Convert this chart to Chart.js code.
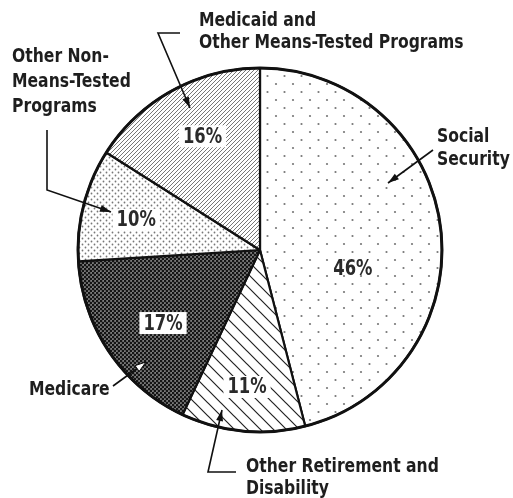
<!DOCTYPE html>
<html>
<head>
<meta charset="utf-8">
<script src="https://cdn.jsdelivr.net/npm/chart.js@4/dist/chart.umd.min.js"></script>
<style>
  html, body { margin: 0; padding: 0; background: #fff; }
  canvas { display: block; }
</style>
</head>
<body>
<canvas id="pieChart" width="513" height="498"></canvas>
<script>
// data (percent of outlays)
const categories = [
    ['Social', 'Security'],
    ['Other Retirement and', 'Disability'],
    ['Medicare'],
    ['Other Non-', 'Means-Tested', 'Programs'],
    ['Medicaid and', 'Other Means-Tested Programs']
];
const shares = [46, 11, 17, 10, 16];

const FONT = '"DejaVu Sans", sans-serif';
const SQUEEZE = 0.78;   // the original type is a condensed face

// pattern fills, one per slice
function makePattern(w, h, draw) {
    const c = document.createElement('canvas');
    c.width = w; c.height = h;
    const g = c.getContext('2d');
    draw(g, w, h);
    return document.getElementById('pieChart').getContext('2d').createPattern(c, 'repeat');
}
function dot(g, x, y, r, col) {
    g.fillStyle = col;
    g.beginPath(); g.arc(x, y, r, 0, Math.PI * 2); g.fill();
}
const fills = [
    makePattern(17, 16, (g, w, h) => {
        g.fillStyle = '#fff'; g.fillRect(0, 0, w, h);
        dot(g, 4, 4, 1.1, '#777');
        dot(g, 12.5, 12, 1.1, '#777');
    }),
    makePattern(13, 13, (g, w, h) => {
        g.fillStyle = '#fff'; g.fillRect(0, 0, w, h);
        g.strokeStyle = '#222'; g.lineWidth = 1.2;
        g.beginPath();
        g.moveTo(-2, -2); g.lineTo(w + 2, h + 2);
        g.moveTo(-2, h - 2); g.lineTo(2, h + 2);
        g.moveTo(w - 2, -2); g.lineTo(w + 2, 2);
        g.stroke();
    }),
    makePattern(4, 4, (g, w, h) => {
        g.fillStyle = '#7c7c7c'; g.fillRect(0, 0, w, h);
        dot(g, 1, 1, 1.35, '#151515');
        dot(g, 3, 3, 1.35, '#151515');
    }),
    makePattern(6, 6, (g, w, h) => {
        g.fillStyle = '#fff'; g.fillRect(0, 0, w, h);
        dot(g, 1.5, 1.5, 0.9, '#777');
        dot(g, 4.5, 4.5, 0.9, '#777');
    }),
    makePattern(4, 4, (g, w, h) => {
        g.fillStyle = '#fff'; g.fillRect(0, 0, w, h);
        g.strokeStyle = '#777'; g.lineWidth = 1;
        g.beginPath();
        g.moveTo(-1, 5); g.lineTo(5, -1);
        g.moveTo(-1, 1); g.lineTo(1, -1);
        g.moveTo(3, 5); g.lineTo(5, 3);
        g.stroke();
    })
];

// where the percent labels sit: angle (deg, clockwise from top) and radius fraction
const pctPlace = [[101, 0.52], [185.4, 0.756], [233, 0.667], [283.7, 0.70], [333.2, 0.70]];
const pctBox = [false, true, true, true, true];

// category text and leader lines
const callouts = [
    { x: 437, y: 137, gap: 23, line: [[433, 150], [388, 183]], head: 'black' },
    { x: 246, y: 467, gap: 22, line: [[236, 472], [208, 472], [222, 410]], head: 'black' },
    { x: 29, y: 390, gap: 23, line: [[113, 386], [146, 362]], head: 'white' },
    { x: 12, y: 57, gap: 25, line: [[47, 130], [47, 190], [111, 212]], head: 'black' },
    { x: 199, y: 21, gap: 22, line: [[180, 33], [158, 33], [190, 108]], head: 'black' }
];

function squeezedText(ctx, txt, x, y, align) {
    ctx.save();
    ctx.translate(x, y);
    ctx.scale(SQUEEZE, 1);
    ctx.textAlign = align;
    ctx.fillText(txt, 0, 0);
    ctx.restore();
}

function arrow(ctx, pts, head) {
    ctx.save();
    ctx.strokeStyle = '#111';
    ctx.lineWidth = 1.6;
    ctx.beginPath();
    ctx.moveTo(pts[0][0], pts[0][1]);
    for (let i = 1; i < pts.length; i++) ctx.lineTo(pts[i][0], pts[i][1]);
    ctx.stroke();
    const [x1, y1] = pts[pts.length - 2];
    const [x2, y2] = pts[pts.length - 1];
    const a = Math.atan2(y2 - y1, x2 - x1);
    const len = 11, wid = 3.5;
    ctx.beginPath();
    ctx.moveTo(x2, y2);
    ctx.lineTo(x2 - len * Math.cos(a) + wid * Math.sin(a), y2 - len * Math.sin(a) - wid * Math.cos(a));
    ctx.lineTo(x2 - len * Math.cos(a) - wid * Math.sin(a), y2 - len * Math.sin(a) + wid * Math.cos(a));
    ctx.closePath();
    ctx.fillStyle = head === 'white' ? '#fff' : '#111';
    ctx.fill();
    if (head === 'white') { ctx.lineWidth = 1; ctx.stroke(); }
    ctx.restore();
}

const annotate = {
    id: 'annotate',
    afterDatasetsDraw(chart) {
        const ctx = chart.ctx;
        const meta = chart.getDatasetMeta(0);
        const arc0 = meta.data[0];
        const cx = arc0.x, cy = arc0.y, r = arc0.outerRadius;

        // heavier outer rim
        ctx.save();
        ctx.strokeStyle = '#111';
        ctx.lineWidth = 3;
        ctx.beginPath(); ctx.arc(cx, cy, r, 0, Math.PI * 2); ctx.stroke();
        ctx.restore();

        // percent labels
        ctx.save();
        ctx.font = 'bold 21px ' + FONT;
        ctx.textBaseline = 'middle';
        chart.data.datasets[0].data.forEach((v, i) => {
            const [deg, f] = pctPlace[i];
            const t = deg * Math.PI / 180;
            const x = cx + Math.sin(t) * r * f;
            const y = cy - Math.cos(t) * r * f;
            const txt = v + '%';
            if (pctBox[i]) {
                const w = ctx.measureText(txt).width * SQUEEZE;
                ctx.fillStyle = '#fff';
                ctx.fillRect(x - w / 2 - 4, y - 11, w + 8, 22);
            }
            ctx.fillStyle = '#2a2a2a';
            squeezedText(ctx, txt, x, y + 1, 'center');
        });
        ctx.restore();

        // category callouts
        ctx.save();
        ctx.font = 'bold 20px ' + FONT;
        ctx.textBaseline = 'middle';
        ctx.fillStyle = '#1e1e1e';
        chart.data.labels.forEach((lines, i) => {
            const c = callouts[i];
            lines.forEach((ln, k) => squeezedText(ctx, ln, c.x, c.y + k * c.gap, 'left'));
            arrow(ctx, c.line, c.head);
        });
        ctx.restore();
    }
};

const chart = new Chart(document.getElementById('pieChart').getContext('2d'), {
    type: 'pie',
    data: {
        labels: categories,
        datasets: [{
            data: shares,
            backgroundColor: fills,
            borderColor: '#111',
            borderWidth: 2.2,
            radius: 182
        }]
    },
    options: {
        responsive: false,
        animation: false,
        layout: { padding: { left: 7, right: 0, top: 2, bottom: 0 } },
        plugins: {
            legend: { display: false },
            tooltip: { enabled: false }
        }
    },
    plugins: [annotate]
});
</script>
</body>
</html>
